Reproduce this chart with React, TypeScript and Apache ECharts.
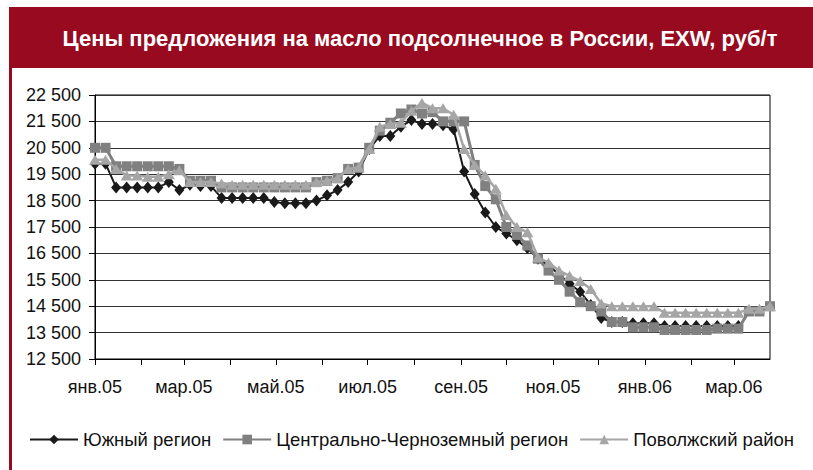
import React, { useEffect, useRef } from "react";
import * as echarts from "echarts";

const TITLE = "Цены предложения на масло подсолнечное в России, EXW, руб/т";
const seriesNames = ["Южный регион", "Центрально-Черноземный регион", "Поволжский район"];
// month labels for each month start on the axis (Jan 2005 .. Mar 2006)
const monthLabels = [
  "янв.05", "фев.05", "мар.05", "апр.05", "май.05", "июн.05", "июл.05", "авг.05",
  "сен.05", "окт.05", "ноя.05", "дек.05", "янв.06", "фев.06", "мар.06",
];
// days in each month shown (the last month is shown up to the 25th)
const monthDays = [31, 28, 31, 30, 31, 30, 31, 31, 30, 31, 30, 31, 31, 28, 25];
// weekly observations, starting on the first day of the axis
const DAYS_PER_STEP = 7;

const south = [
  19900, 19900, 19000, 19000, 19000, 19000, 19000, 19200, 18900, 19100,
  19050, 19050, 18600, 18600, 18600, 18600, 18600, 18450, 18400, 18400,
  18400, 18500, 18700, 18900, 19200, 19600, 20450, 20950, 20950, 21300,
  21550, 21400, 21400, 21350, 21200, 19600, 18750, 18050, 17500, 17250,
  17000, 16700, 16300, 16050, 15700, 15350, 15050, 14550, 14050, 13900,
  13900, 13850, 13850, 13850, 13750, 13750, 13750, 13750, 13750, 13750,
  13750, 13750,
];
const centralBlackEarth = [
  20500, 20500, 19800, 19800, 19800, 19800, 19800, 19800, 19700, 19250,
  19250, 19250, 19000, 19000, 19000, 19000, 19000, 19000, 19000, 19000,
  19000, 19200, 19250, 19350, 19700, 19750, 20500, 21150, 21450, 21800,
  21950, 21800, 21850, 21500, 21500, 21500, 19850, 19050, 18550, 17500,
  17200, 16800, 16300, 15850, 15500, 15050, 14650, 14500, 14300, 13900,
  13900, 13700, 13700, 13700, 13600, 13600, 13600, 13600, 13600, 13650,
  13650, 13650, 14300, 14300, 14500,
];
const volga = [
  20050, 20050, 19700, 19450, 19450, 19400, 19400, 19500, 19650, 19200,
  19200, 19200, 19150, 19100, 19100, 19100, 19100, 19100, 19100, 19100,
  19100, 19200, 19250, 19350, 19700, 19750, 20450, 21300, 21400, 21450,
  21900, 22200, 22000, 22000, 21750, 20450, 19850, 19450, 18950, 17950,
  17500, 17300, 16350, 16150, 15850, 15650, 15450, 15150, 14600, 14500,
  14500, 14500, 14500, 14500, 14250, 14250, 14250, 14250, 14250, 14250,
  14250, 14250, 14400, 14400, 14500,
];

const Y_MIN = 12500;
const Y_MAX = 22500;
const Y_STEP = 1000;

const FONT = '"Liberation Sans", Arial, sans-serif';

// daily categories: "label|dayOfMonth|monthIndex"
const dayCategories: string[] = [];
monthDays.forEach((n, m) => {
  for (let d = 1; d <= n; d++) dayCategories.push(`${monthLabels[m]}|${d}|${m}`);
});

const toPoints = (vals: number[]) => vals.map((v, i) => [i * DAYS_PER_STEP, v]);

const fmtThousands = (v: number) => {
  const s = String(Math.round(v));
  return s.replace(/\B(?=(\d{3})+(?!\d))/g, " ");
};

export default function App() {
  const ref = useRef<HTMLDivElement>(null);
  useEffect(() => {
    const chart = echarts.init(ref.current!, undefined, { renderer: "svg" });
    const option: any = {
      animation: false,
      backgroundColor: "#ffffff",
      textStyle: { fontFamily: FONT },
      graphic: [
        { type: "rect", shape: { x: 9, y: 7, width: 804, height: 61 }, style: { fill: "#970a1f" } },
        { type: "rect", shape: { x: 9, y: 7, width: 3, height: 463 }, style: { fill: "#970a1f" } },
        {
          type: "text",
          x: 420,
          y: 38,
          style: {
            text: TITLE,
            fill: "#ffffff",
            font: `bold 22px ${FONT}`,
            textAlign: "center",
            textVerticalAlign: "middle",
          },
        },
      ],
      grid: { left: 95, right: 43, top: 95, bottom: 111, show: true, borderColor: "#000", borderWidth: 1 },
      legend: {
        left: 29,
        right: 0,
        top: 430,
        padding: 0,
        itemWidth: 48,
        itemHeight: 12,
        itemGap: 11,
        textStyle: { fontSize: 18.5, color: "#111", fontFamily: FONT },
        data: seriesNames,
      },
      xAxis: {
        type: "category",
        boundaryGap: false,
        data: dayCategories,
        axisLine: { lineStyle: { color: "#000", width: 1 } },
        axisTick: {
          show: true,
          length: 6,
          lineStyle: { color: "#000" },
          interval: (_i: number, v: string) => v.split("|")[1] === "1",
        },
        axisLabel: {
          interval: (_i: number, v: string) => {
            const p = v.split("|");
            return p[1] === "1" && Number(p[2]) % 2 === 0;
          },
          formatter: (v: string) => v.split("|")[0],
          fontSize: 18,
          color: "#111",
          margin: 19,
          fontFamily: FONT,
        },
        splitLine: { show: false },
      },
      yAxis: {
        type: "value",
        min: Y_MIN,
        max: Y_MAX,
        interval: Y_STEP,
        axisLine: { show: true, lineStyle: { color: "#000" } },
        axisTick: { show: true, length: 6, lineStyle: { color: "#000" } },
        axisLabel: { fontSize: 18, color: "#111", margin: 14, formatter: fmtThousands, fontFamily: FONT },
        splitLine: { show: true, lineStyle: { color: "#333333", width: 1 } },
      },
      series: [
        {
          name: seriesNames[0],
          type: "line",
          data: toPoints(south),
          symbol: "diamond",
          symbolSize: [10, 12],
          showAllSymbol: true,
          color: "#1a1a1a",
          lineStyle: { width: 2, color: "#1a1a1a" },
          itemStyle: { color: "#1a1a1a" },
          z: 2,
        },
        {
          name: seriesNames[1],
          type: "line",
          data: toPoints(centralBlackEarth),
          symbol: "rect",
          symbolSize: 10,
          showAllSymbol: true,
          color: "#808080",
          lineStyle: { width: 3, color: "#808080" },
          itemStyle: { color: "#808080" },
          z: 3,
        },
        {
          name: seriesNames[2],
          type: "line",
          data: toPoints(volga),
          symbol: "triangle",
          symbolSize: [12, 10],
          showAllSymbol: true,
          color: "#a6a6a6",
          lineStyle: { width: 2.5, color: "#a6a6a6" },
          itemStyle: { color: "#a6a6a6" },
          z: 4,
        },
      ],
    };
    chart.setOption(option);
    return () => chart.dispose();
  }, []);
  return <div ref={ref} style={{ position: "fixed", left: 0, top: 0, width: 813, height: 470 }} />;
}
